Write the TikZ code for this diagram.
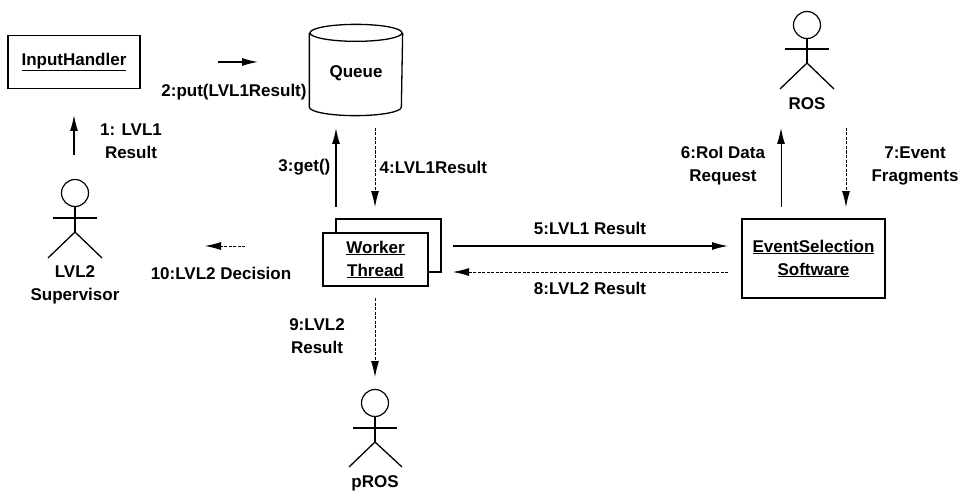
\documentclass[tikz,border=0pt]{standalone}
\usepackage{fontspec}
\setmainfont{Liberation Sans}
\usepackage{tikz}
\usetikzlibrary{arrows.meta}
\usetikzlibrary{calc}

\begin{document}
\begin{tikzpicture}[x=1pt,y=1pt,line width=1.3pt,
  font=\fontsize{17}{23}\selectfont\bfseries,
  obj/.style={draw,fill=white,minimum width=105pt,minimum height=53pt,align=center,inner sep=0pt},
  head/.style={draw,circle,minimum size=27pt,inner sep=0pt,line width=1.2pt},
  call/.style={-{Latex[length=16pt,width=8pt]}},
  reply/.style={-{Latex[length=16pt,width=8pt]},line width=0.9pt,dash pattern=on 3pt off 1.5pt},
  lbl/.style={align=center,inner sep=0pt}]
\useasboundingbox (0,0) rectangle (961,491);

  \node[obj,minimum width=132pt] at (74,429) (ih) {\underline{InputHandler}};
  \node[minimum width=92pt,minimum height=90pt,inner sep=0pt] at (356,421) (queue) {};
  \draw ([yshift=-8.5pt]queue.north) ellipse [x radius=46pt,y radius=8.5pt];
  \draw ([yshift=-8.5pt]queue.north west) -- ([yshift=8.5pt]queue.south west)
    arc[start angle=180,end angle=360,x radius=46pt,y radius=8.5pt] -- ([yshift=-8.5pt]queue.north east);
  \node at ([yshift=-3pt]queue.center) {Queue};

  \node[obj] at (388.5,245.5) (wt2) {};
  \node[obj] at (375.5,231.5) (wt) {\underline{Worker}\\\underline{Thread}};
  \node[obj,minimum width=143pt,minimum height=79pt] at (813.5,232.5) (ess) {\underline{EventSelection}\\\underline{Software}};

  % actors
  \node[head] at (75,298) (sup) {};
  \draw (sup.south) -- ([yshift=-39pt]sup.center) coordinate (supH);
  \draw ([xshift=-22pt,yshift=-25pt]sup.center) -- ([xshift=22pt,yshift=-25pt]sup.center);
  \draw (supH) -- ++(-27,-26);
  \draw (supH) -- ++(27,-26);
  \node[lbl] at ([yshift=-92pt]sup.center) (supL) {LVL2\\Supervisor};

  \node[head] at (807,466) (ros) {};
  \draw (ros.south) -- ([yshift=-38pt]ros.center) coordinate (rosH);
  \draw ([xshift=-22pt,yshift=-24pt]ros.center) -- ([xshift=22pt,yshift=-24pt]ros.center);
  \draw (rosH) -- ++(-27,-26);
  \draw (rosH) -- ++(27,-26);
  \node[lbl] at ([yshift=-79pt]ros.center) (rosL) {ROS};

  \node[head] at (375,88) (pros) {};
  \draw (pros.south) -- ([yshift=-39pt]pros.center) coordinate (prosH);
  \draw ([xshift=-22pt,yshift=-25pt]pros.center) -- ([xshift=22pt,yshift=-25pt]pros.center);
  \draw (prosH) -- ++(-26,-25);
  \draw (prosH) -- ++(27,-25);
  \node[lbl] at ([yshift=-80pt]pros.center) (prosL) {pROS};

  % messages
  \coordinate (m1a) at (74,336);   \coordinate (m1b) at (74,376);
  \coordinate (m2a) at (218,429);  \coordinate (m2b) at (258,429);
  \coordinate (m3a) at (336,284);  \coordinate (m3b) at (336,363);
  \coordinate (m4a) at (375,363);  \coordinate (m4b) at (375,284);
  \coordinate (m5a) at (453,245);  \coordinate (m5b) at (728,245);
  \coordinate (m6a) at (781,284);  \coordinate (m6b) at (781,363);
  \coordinate (m7a) at (846,363);  \coordinate (m7b) at (846,284);
  \coordinate (m8a) at (728,219);  \coordinate (m8b) at (453,219);
  \coordinate (m9a) at (375,193);  \coordinate (m9b) at (375,114);
  \coordinate (m10a) at (245,245); \coordinate (m10b) at (205,245);

  \draw[call] (m1a) -- (m1b);
  \draw[call] (m2a) -- (m2b);
  \draw[call] (m3a) -- (m3b);
  \draw[reply] (m4a) -- (m4b);
  \draw[call] (m5a) -- (m5b);
  \draw[call,line width=1pt] (m6a) -- (m6b);
  \draw[reply] (m7a) -- (m7b);
  \draw[reply] (m8a) -- (m8b);
  \draw[reply] (m9a) -- (m9b);
  \draw[reply] (m10a) -- (m10b);

  \node[lbl] at (131,350) (l1) {1: LVL1\\Result};
  \node[lbl] at (234,399) (l2) {2:put(LVL1Result)};
  \node[lbl,anchor=east] at (331,324) (l3) {3:get()};
  \node[lbl,anchor=west] at (379,324) (l4) {4:LVL1Result};
  \node[lbl] at (590,263) (l5) {5:LVL1 Result};
  \node[lbl] at (723,325) (l6) {6:RoI Data\\Request};
  \node[lbl] at (915,325) (l7) {7:Event\\Fragments};
  \node[lbl] at (590,203) (l8) {8:LVL2 Result};
  \node[lbl] at (317,155) (l9) {9:LVL2\\Result};
  \node[lbl] at (221,218) (l10) {10:LVL2 Decision};

\end{tikzpicture}
\end{document}
